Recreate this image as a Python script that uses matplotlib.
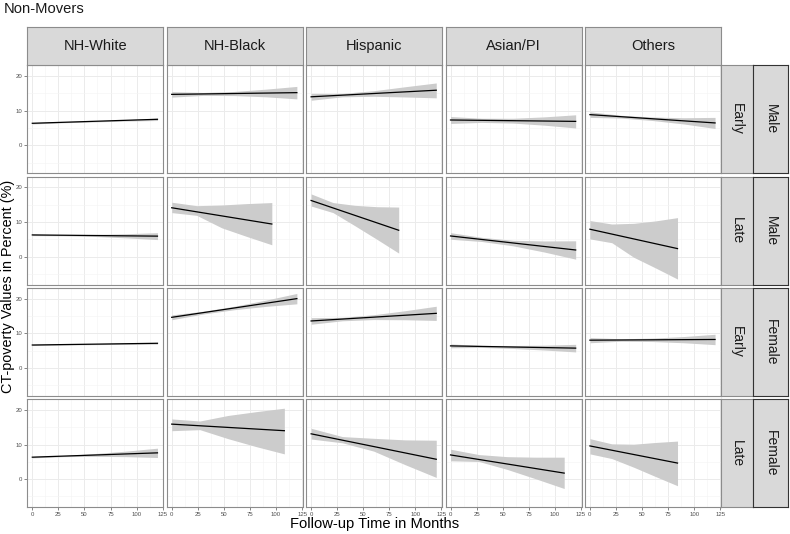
import numpy as np
import matplotlib
matplotlib.use('Agg')
import matplotlib.pyplot as plt
from matplotlib.ticker import MultipleLocator

plt.rcParams['font.family'] = ['Liberation Sans', 'DejaVu Sans']

# Facet labels
races = ['NH-White', 'NH-Black', 'Hispanic', 'Asian/PI', 'Others']
timing = ['Early', 'Late', 'Early', 'Late']
sex = ['Male', 'Male', 'Female', 'Female']

x_ticks = [0, 25, 50, 75, 100, 125]
y_ticks = [0, 10, 20]

# Last follow-up month of each fitted line (rows x races)
x_end = [
    [120, 120, 120, 120, 120],
    [120, 96, 84, 120, 84],
    [120, 120, 120, 120, 120],
    [120, 108, 120, 109, 84],
]

# Fitted values at month 0 and at the last month
fit_start = [
    [6.35, 14.7, 14.0, 7.3, 8.85],
    [6.25, 14.1, 16.2, 5.95, 7.9],
    [6.6, 14.6, 13.55, 6.35, 8.0],
    [6.35, 15.9, 13.1, 7.0, 9.6],
]
fit_end = [
    [7.5, 15.2, 15.9, 6.9, 6.45],
    [5.9, 9.4, 7.6, 1.9, 2.3],
    [7.1, 20.0, 15.75, 5.7, 8.2],
    [7.6, 14.0, 5.75, 1.75, 4.65],
]

# Confidence band read at 0, 1/4, 1/2, 3/4 and end of each line
ci_low = [
    [[6.15, 6.5, 6.75, 7.0, 7.15], [13.9, 14.4, 14.35, 14.0, 13.4], [13.0, 14.0, 14.15, 13.95, 13.7],
     [6.3, 6.6, 6.4, 5.8, 5.0], [8.05, 7.85, 7.15, 6.15, 4.85]],
    [[6.05, 6.0, 5.8, 5.4, 4.9], [12.7, 11.9, 8.3, 5.8, 3.4], [14.6, 12.7, 8.9, 5.0, 1.0],
     [5.0, 4.35, 3.1, 1.3, -0.75], [5.1, 4.0, -0.2, -3.3, -6.5]],
    [[6.45, 6.6, 6.7, 6.8, 6.85], [13.9, 15.55, 16.8, 17.75, 18.5], [12.6, 13.6, 13.95, 13.9, 13.7],
     [5.8, 5.9, 5.6, 5.15, 4.6], [7.25, 7.7, 7.6, 7.25, 6.7]],
    [[6.15, 6.5, 6.6, 6.5, 6.25], [14.0, 14.3, 11.7, 9.4, 7.3], [11.6, 10.5, 8.1, 4.2, 0.5],
     [5.3, 5.1, 2.8, 0.1, -2.7], [7.3, 5.95, 3.45, 0.75, -1.9]],
]
ci_high = [
    [[6.55, 6.85, 7.1, 7.4, 7.85], [15.5, 15.25, 15.55, 16.2, 17.0], [15.0, 15.0, 15.75, 16.9, 18.0],
     [8.3, 7.8, 7.8, 8.2, 8.8], [9.65, 8.65, 8.15, 7.95, 8.05]],
    [[6.45, 6.3, 6.4, 6.6, 6.9], [15.7, 14.7, 14.9, 15.3, 15.6], [18.1, 15.6, 14.8, 14.4, 14.3],
     [6.9, 5.55, 4.7, 4.5, 4.55], [10.4, 9.4, 9.6, 10.3, 11.25]],
    [[6.75, 6.85, 7.0, 7.15, 7.35], [15.3, 16.35, 17.8, 19.55, 21.5], [14.5, 14.6, 15.35, 16.5, 17.8],
     [6.9, 6.5, 6.45, 6.55, 6.8], [8.75, 8.4, 8.6, 9.05, 9.7]],
    [[6.55, 6.8, 7.4, 8.1, 8.95], [17.4, 16.8, 18.4, 19.5, 20.5], [14.7, 12.3, 11.8, 11.35, 11.25],
     [8.65, 7.1, 6.5, 6.35, 6.35], [11.7, 10.2, 10.1, 10.6, 11.0]],
]

W, H = 790, 534

# Layout in pixels (top-left origin)
PANEL_X0, PANEL_DX, PANEL_W = 27.3, 139.4, 136
ROW_Y0, ROW_DY, ROW_H = 65.3, 111.3, 108
STRIP_TOP_Y, STRIP_TOP_H = 26.7, 38.6


def box(x, y, w, h):
    # pixel box -> figure fraction
    return [x / W, 1 - (y + h) / H, w / W, h / H]


def strip(fig, x, y, w, h, label, rotation=0, edge='#8C8C8C', size=10.5):
    ax = fig.add_axes(box(x, y, w, h))
    ax.set_facecolor('#D9D9D9')
    ax.set_xticks([])
    ax.set_yticks([])
    for s in ax.spines.values():
        s.set_color(edge)
        s.set_linewidth(0.8)
    ax.text(0.5, 0.5, label, transform=ax.transAxes, ha='center', va='center',
            rotation=rotation, fontsize=size, color='#1A1A1A')
    return ax


def draw_panel(fig, r, c):
    ax = fig.add_axes(box(PANEL_X0 + c * PANEL_DX, ROW_Y0 + r * ROW_DY, PANEL_W, ROW_H))
    stations = np.linspace(0, x_end[r][c], 5)
    ax.fill_between(stations, ci_low[r][c], ci_high[r][c], color='#CCCCCC', lw=0, zorder=2)
    ax.plot([0, x_end[r][c]], [fit_start[r][c], fit_end[r][c]], color='black', lw=0.9, zorder=3)

    ax.set_xlim(-4.8, 125.6)
    ax.set_ylim(-8.1, 23.1)
    ax.set_xticks(x_ticks)
    ax.set_yticks(y_ticks)
    ax.xaxis.set_minor_locator(MultipleLocator(12.5))
    ax.yaxis.set_minor_locator(MultipleLocator(5))
    ax.grid(which='major', color='#EBEBEB', lw=0.7)
    ax.grid(which='minor', color='#F4F4F4', lw=0.4)
    ax.set_axisbelow(True)
    ax.tick_params(which='minor', length=0)
    ax.tick_params(which='major', length=2, width=0.5, color='#555555',
                   labelsize=4.3, labelcolor='#4D4D4D', pad=1.5)
    if r < 3:
        ax.tick_params(axis='x', labelbottom=False, length=0)
    if c > 0:
        ax.tick_params(axis='y', labelleft=False, length=0)
    for s in ax.spines.values():
        s.set_color('#8C8C8C')
        s.set_linewidth(0.8)


def main():
    fig = plt.figure(figsize=(W / 100, H / 100), dpi=100)

    for r in range(4):
        for c in range(5):
            draw_panel(fig, r, c)

    # column strips
    for c, name in enumerate(races):
        strip(fig, PANEL_X0 + c * PANEL_DX, STRIP_TOP_Y, PANEL_W, STRIP_TOP_H, name)

    # row strips (timing inside, sex outside)
    right = PANEL_X0 + 4 * PANEL_DX + PANEL_W
    for r in range(4):
        y = ROW_Y0 + r * ROW_DY
        strip(fig, right, y, 32, ROW_H, timing[r], rotation=270, size=10)
        strip(fig, right + 32, y, 788 - right - 32, ROW_H, sex[r], rotation=270,
              edge='#333333', size=10)

    fig.text(4 / W, 1 - 9 / H, 'Non-Movers', ha='left', va='center', fontsize=10.6, color='#1A1A1A')
    fig.text((PANEL_X0 + right) / 2 / W, 1 - 524 / H, 'Follow-up Time in Months',
             ha='center', va='center', fontsize=10.6)
    fig.text(8 / W, 1 - (ROW_Y0 + (4 * ROW_DY - 3.3) / 2) / H, 'CT-poverty Values in Percent (%)',
             ha='center', va='center', rotation=90, fontsize=10.4)

    fig.savefig('out.png', dpi=100)


if __name__ == '__main__':
    main()
